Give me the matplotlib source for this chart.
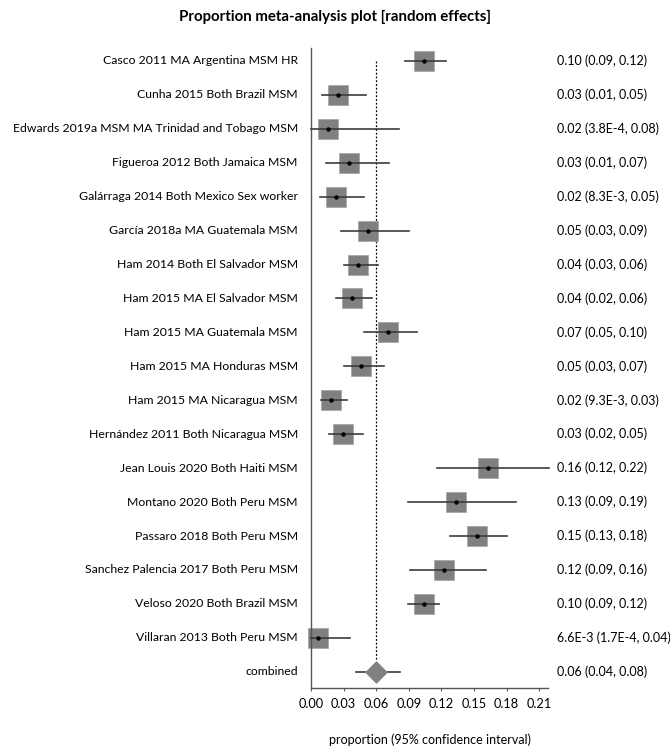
import matplotlib.pyplot as plt
import numpy as np

plt.rcParams["font.family"] = ["Lato", "DejaVu Sans"]

studies = [
    "Casco 2011 MA Argentina MSM HR",
    "Cunha 2015 Both Brazil MSM",
    "Edwards 2019a MSM MA Trinidad and Tobago MSM",
    "Figueroa 2012 Both Jamaica MSM",
    "Galárraga 2014 Both Mexico Sex worker",
    "García 2018a MA Guatemala MSM",
    "Ham 2014 Both El Salvador MSM",
    "Ham 2015 MA El Salvador MSM",
    "Ham 2015 MA Guatemala MSM",
    "Ham 2015 MA Honduras MSM",
    "Ham 2015 MA Nicaragua MSM",
    "Hernández 2011 Both Nicaragua MSM",
    "Jean Louis 2020 Both Haiti MSM",
    "Montano 2020 Both Peru MSM",
    "Passaro 2018 Both Peru MSM",
    "Sanchez Palencia 2017 Both Peru MSM",
    "Veloso 2020 Both Brazil MSM",
    "Villaran 2013 Both Peru MSM",
]
est = [0.104, 0.025, 0.0153, 0.0349, 0.0227, 0.0527, 0.0435, 0.0374, 0.0705,
       0.046, 0.0184, 0.0294, 0.1624, 0.133, 0.1526, 0.1225, 0.1036, 0.0066]
lower = [0.0867, 0.0104, 0.00038, 0.0141, 0.0083, 0.0276, 0.030, 0.0233, 0.049,
         0.030, 0.0093, 0.0165, 0.1158, 0.0889, 0.128, 0.0913, 0.0895, 0.00017]
upper = [0.1238, 0.0509, 0.081, 0.0714, 0.0484, 0.0898, 0.0613, 0.0558, 0.0974,
         0.0668, 0.0331, 0.0478, 0.2188, 0.1887, 0.180, 0.1611, 0.118, 0.0361]
ci_text = [
    "0.10 (0.09, 0.12)", "0.03 (0.01, 0.05)", "0.02 (3.8E-4, 0.08)",
    "0.03 (0.01, 0.07)", "0.02 (8.3E-3, 0.05)", "0.05 (0.03, 0.09)",
    "0.04 (0.03, 0.06)", "0.04 (0.02, 0.06)", "0.07 (0.05, 0.10)",
    "0.05 (0.03, 0.07)", "0.02 (9.3E-3, 0.03)", "0.03 (0.02, 0.05)",
    "0.16 (0.12, 0.22)", "0.13 (0.09, 0.19)", "0.15 (0.13, 0.18)",
    "0.12 (0.09, 0.16)", "0.10 (0.09, 0.12)", "6.6E-3 (1.7E-4, 0.04)",
]
comb_label = "combined"
comb_est, comb_lo, comb_hi = 0.06, 0.0416, 0.0821
comb_text = "0.06 (0.04, 0.08)"
xticks = [0.00, 0.03, 0.06, 0.09, 0.12, 0.15, 0.18, 0.21]

fig = plt.figure(figsize=(6.7, 7.48), dpi=100)
ax = fig.add_axes([0.4642, 0.0806, 0.3537, 0.8552])

n = len(studies)
ys = -np.arange(n)
comb_y = -n

# dotted reference line at pooled estimate
ax.plot([comb_est, comb_est], [0, comb_y + 0.33], color="black", lw=0.9,
        ls=(0, (1.5, 1.5)), zorder=1)

for i in range(n):
    ax.plot([lower[i], upper[i]], [ys[i], ys[i]], color="#3c3c3c", lw=1.2,
            zorder=3, clip_on=False)
ax.plot(est, ys, ls="none", marker="s", ms=13.7, mfc="#808080", mec="#a8a8a8",
        mew=0.6, zorder=2, clip_on=False)
ax.plot(est, ys, ls="none", marker="o", ms=2.2, color="black", zorder=4,
        clip_on=False)

ax.plot([comb_lo, comb_hi], [comb_y, comb_y], color="#3c3c3c", lw=1.2, zorder=3)
ax.plot([comb_est], [comb_y], marker="D", ms=11.2, mfc="#808080", mec="#8c8c8c",
        mew=0.5, zorder=4)

labels = studies + [comb_label]
rtexts = ci_text + [comb_text]
for i, (lab, rt) in enumerate(zip(labels, rtexts)):
    ax.annotate(lab, xy=(0, -i), xycoords=("axes fraction", "data"),
                xytext=(-9.5, 0), textcoords="offset points",
                ha="right", va="center", fontsize=8.8)
    ax.annotate(rt, xy=(1, -i), xycoords=("axes fraction", "data"),
                xytext=(6.5, 0), textcoords="offset points",
                ha="left", va="center", fontsize=9)

ax.set_xlim(0, 0.218)
ax.set_ylim(-n - 0.47, 0.38)
ax.set_xticks(xticks)
ax.set_xticklabels([f"{t:.2f}" for t in xticks], fontsize=9.2)
ax.set_yticks([])
ax.tick_params(axis="x", length=2.5, width=0.8, color="#555555", pad=5)
for s in ["top", "right"]:
    ax.spines[s].set_visible(False)
for s in ["left", "bottom"]:
    ax.spines[s].set_color("#555555")
    ax.spines[s].set_linewidth(1.0)

ax.set_xlabel("proportion (95% confidence interval)", fontsize=9, labelpad=17)
fig.text(0.5, 0.977, "Proportion meta-analysis plot [random effects]",
         ha="center", va="center", fontsize=10.8, fontweight="bold")

fig.savefig("out.png", dpi=100)
